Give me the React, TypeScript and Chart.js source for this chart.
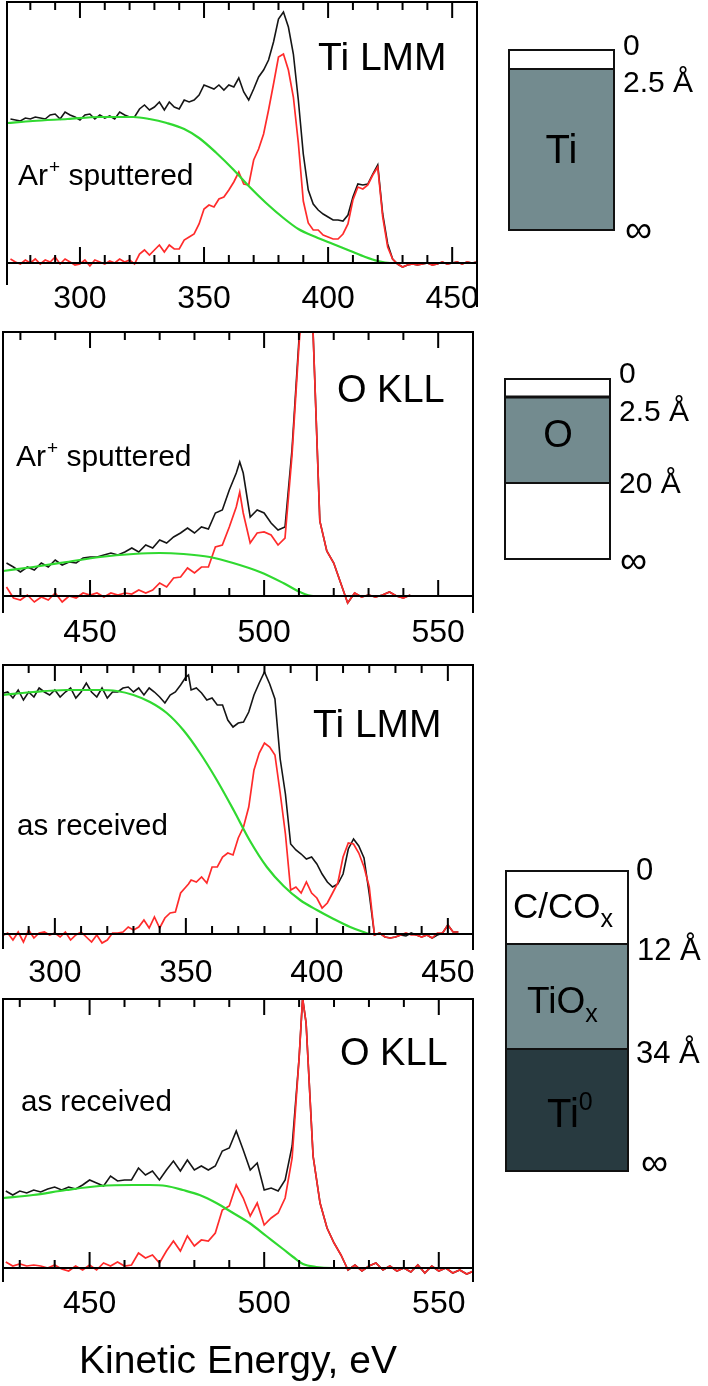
import React, { useEffect, useRef } from "react";
import { Chart, registerables } from "chart.js";
Chart.register(...registerables);

const W = 708;
const H = 1386;
const FONT = '"Liberation Sans", Arial, Helvetica, sans-serif';
const BLACK = "#151515";
const RED = "#ff2b2b";
const GREEN = "#30d930";
const GRAY = "#738b8f";
const DARK = "#283a40";

// ---------- Panel 1: Ti LMM, Ar+ sputtered (kinetic energy eV, intensity a.u.) ----------
const tiSputE = [
  272, 274, 276, 278, 280, 282, 284, 286, 288, 290,
  292, 294, 296, 298, 300, 302, 304, 306, 308, 310,
  312, 314, 316, 318, 320, 322, 324, 326, 328, 330,
  332, 334, 336, 338, 340, 342, 344, 346, 348, 350,
  352, 354, 356, 358, 360, 362, 364, 366, 368, 370,
  372, 374, 376, 378, 380, 382, 384, 386, 388, 390,
  392, 394, 396, 398, 400, 402, 404, 406, 408, 410,
  412, 414, 416, 418, 420, 422, 424, 426, 428, 430,
  432, 434, 436, 438, 440, 442, 444, 446, 448, 450,
  452, 454, 456, 458, 460,
];
const tiSputRaw = [
  144, 143, 142, 145, 144, 146, 145, 144, 148, 149,
  144, 151, 148, 146, 143, 148, 149, 144, 148, 145,
  147, 144, 151, 148, 146, 146, 154, 158, 153, 156,
  161, 153, 161, 156, 154, 163, 161, 163, 168, 178,
  176, 174, 178, 173, 178, 176, 185, 171, 163, 174,
  186, 193, 203, 221, 244, 251, 236, 209, 163, 109,
  73, 59, 53, 49, 46, 43, 43, 42, 48, 66,
  79, 78, 79, 89, 98, 49, 19, 4, -1, -4,
  -2, -1, -2, -1, 0, -2, -1, 1, -1, 0,
  1, -1, 1, 0, 1,
];
const tiSputNet = [
  4, 1, -1, 3, 0, 4, -1, 3, 1, 6,
  -1, 4, 1, -2, -1, 3, -3, 3, 1, -1,
  2, 0, 4, 1, 3, -1, 9, 13, 8, 13,
  18, 11, 18, 14, 14, 23, 26, 29, 39, 54,
  58, 56, 64, 66, 73, 81, 91, 79, 78, 103,
  114, 129, 153, 179, 206, 209, 193, 166, 120, 62,
  40, 33, 33, 28, 26, 24, 24, 29, 39, 63,
  76, 74, 78, 88, 96, 46, 16, 4, -1, -4,
  -2, -1, -2, -1, 0, -2, -1, 1, -1, 0,
  1, -1, 1, 0, 1,
];
const tiSputBgE = [270.6, 281, 295, 308, 321.5, 328, 335, 342, 348, 355, 362, 368, 375, 382, 388, 395, 402, 409, 415, 420, 425, 440, 460];
const tiSputBg = [140, 142, 144, 146, 146, 144, 140, 134, 125, 110, 93, 77, 60, 45, 34, 26, 19, 12, 6, 2, 0, 0, 0];

// ---------- Panel 2: O KLL, Ar+ sputtered ----------
const oSputE = [
  426, 428, 430, 432, 434, 436, 438, 440, 442, 444,
  446, 448, 450, 452, 454, 456, 458, 460, 462, 464,
  466, 468, 470, 472, 474, 476, 478, 480, 482, 484,
  486, 488, 490, 492, 493, 494, 496, 498, 500, 502,
  504, 506, 508, 510, 512, 514, 516, 518, 520, 522,
  524, 526, 528, 530, 532, 534, 536, 538, 540, 542,
];
const oSputRaw = [
  33, 29, 24, 29, 26, 33, 29, 36, 31, 34,
  33, 38, 39, 39, 41, 43, 41, 44, 48, 44,
  51, 48, 56, 53, 59, 63, 68, 63, 69, 67,
  83, 86, 106, 123, 134, 123, 79, 86, 83, 73,
  66, 69, 146, 256, 340, 270, 75, 45, 33, 13,
  -7, 3, -1, 1, -1, 1, 4, 0, -2, 1,
];
const oSputNet = [
  9, -2, -4, 1, -6, -1, -4, 3, -6, 0,
  -2, 3, 1, 3, -1, 3, 1, 3, 2, 6,
  3, 6, 13, 9, 18, 19, 28, 23, 29, 29,
  49, 51, 69, 89, 104, 83, 53, 63, 64, 61,
  51, 58, 140, 250, 340, 270, 75, 45, 33, 13,
  -7, 3, -1, 1, -1, 1, 4, 0, -2, 1,
];
const oSputBgE = [425, 433.7, 443.3, 452.9, 462.4, 470, 476.8, 484.4, 491.1, 498.8, 505.5, 510.3, 514.1, 520, 543.3];
const oSputBg = [25, 29, 34, 39, 42, 43, 42, 39, 33, 24, 13, 4, 0, 0, 0];

// ---------- Panel 3: Ti LMM, as received ----------
const tiRecE = [
  280.5, 282, 284, 286, 288, 290, 292, 294, 296, 298,
  300, 302, 304, 306, 308, 310, 312, 314, 316, 318,
  320, 322, 324, 326, 328, 330, 332, 334, 336, 338,
  340, 342, 344, 346, 348, 350, 351, 352, 354, 356,
  358, 360, 362, 364, 366, 368, 370, 372, 374, 376,
  378, 380, 382, 384, 386, 388, 390, 392, 394, 396,
  398, 400, 402, 404, 406, 408, 410, 412, 414, 416,
  418, 420, 422, 424, 426, 428, 430, 432, 434, 436,
  438, 440, 442, 444, 446, 448, 450, 452, 454,
];
const tiRecRaw = [
  241, 242, 236, 244, 234, 242, 237, 246, 242, 239,
  244, 237, 242, 246, 236, 242, 251, 242, 237, 246,
  236, 242, 242, 246, 247, 242, 246, 239, 246, 242,
  237, 231, 239, 242, 249, 257, 259, 244, 246, 241,
  234, 236, 229, 229, 214, 207, 211, 212, 222, 239,
  251, 262, 250, 235, 175, 140, 90, 84, 80, 75,
  77, 70, 60, 52, 47, 50, 60, 85, 95, 88,
  76, 40, -1, 1, -3, -4, -3, -1, -2, 1,
  -1, -3, -1, -4, -1, 1, 9, 2, 2,
];
const tiRecNet = [
  -1, 1, -6, 2, -8, 4, -4, 1, 2, -1,
  1, -3, 2, -6, -1, 2, -3, -8, -1, -9,
  -6, 1, 1, 2, 7, 4, 7, 14, 6, 17,
  6, 16, 21, 22, 41, 47, 50, 54, 52, 57,
  51, 67, 67, 77, 81, 79, 96, 107, 127, 164,
  181, 191, 187, 179, 141, 100, 44, 47, 41, 52,
  41, 36, 26, 31, 41, 51, 77, 91, 90, 81,
  67, 47, -1, 1, -3, -4, -3, -1, 1, -1,
  -1, -3, -1, -4, 1, 1, 9, 2, 2,
];
const tiRecBgE = [280.3, 291.7, 304.5, 317.2, 323.6, 330, 336.3, 342.7, 349, 355.4, 361.8, 368.2, 374.5, 380.9, 387.3, 393.6, 400, 406.4, 412.7, 417.8, 420.4, 453.5];
const tiRecBg = [239, 242, 244, 244, 243, 239, 232, 221, 204, 181, 154, 124, 93, 67, 48, 34, 24, 15, 7, 2, 0, 0];

// ---------- Panel 4: O KLL, as received ----------
const oRecE = [
  426, 428, 430, 432, 434, 436, 438, 440, 442, 444,
  446, 448, 450, 452, 454, 456, 458, 460, 462, 464,
  466, 468, 470, 472, 474, 476, 478, 480, 482, 484,
  486, 488, 490, 492, 494, 496, 498, 500, 502, 504,
  506, 508, 510, 511, 512, 514, 516, 518, 520, 522,
  524, 526, 528, 530, 532, 534, 536, 538, 540, 542,
  544, 546, 548, 550, 552, 554, 556, 558, 560,
];
const oRecRaw = [
  77, 73, 77, 75, 78, 76, 79, 81, 78, 81,
  79, 83, 88, 85, 82, 92, 87, 88, 88, 100,
  93, 97, 88, 98, 107, 97, 108, 98, 102, 98,
  102, 117, 120, 137, 118, 98, 105, 78, 80, 77,
  88, 122, 210, 270, 245, 112, 65, 40, 25, 13,
  -2, 3, -3, 2, 5, -2, 2, -3, 0, -4,
  3, -5, 2, -3, 0, -5, -2, -6, -3,
];
const oRecNet = [
  6, 2, 4, 2, 3, 2, 0, 3, -1, -3,
  2, -2, 3, -2, 5, 2, 6, 2, 3, 15,
  10, 13, 5, 17, 27, 17, 32, 22, 28, 27,
  35, 58, 62, 83, 70, 52, 65, 43, 50, 55,
  70, 110, 210, 270, 245, 112, 65, 40, 25, 13,
  -2, 3, -3, 2, 5, -2, 2, -3, 0, -4,
  3, -5, 2, -3, 0, -5, -2, -6, -3,
];
const oRecBgE = [425.2, 433.8, 443.3, 452.9, 462.4, 467.2, 472, 476.7, 481.5, 486.3, 491.1, 495.8, 500.6, 505.4, 508.3, 511.1, 514.9, 519.7, 559.8];
const oRecBg = [70, 73, 78, 82, 83, 83, 82, 78, 73, 65, 55, 45, 32, 19, 11, 4, 1, 0, 0];

// ---------- Axis ticks ----------
const tiSputTicks = [280, 290, 300, 310, 320, 330, 340, 350, 360, 370, 380, 390, 400, 410, 420, 430, 440, 450];
const tiRecTicks = [290, 300, 310, 320, 330, 340, 350, 360, 370, 380, 390, 400, 410, 420, 430, 440, 450];
const oTicks = [430, 440, 450, 460, 470, 480, 490, 500, 510, 520, 530, 540, 550];
const tiTickLabels = [300, 350, 400, 450];
const oTickLabels = [450, 500, 550];
const xAxisTitle = "Kinetic Energy, eV";

// ---------- Depth schematics ----------
const sputTiDepths = ["0", "2.5 Å", "∞"];
const sputODepths = ["0", "2.5 Å", "20 Å", "∞"];
const recDepths = ["0", "12 Å", "34 Å", "∞"];

type PanelDef = {
  key: string;
  energies: number[];
  raw: number[];
  net: number[];
  bgE: number[];
  bg: number[];
  ticks: number[];
  labels: number[];
  xMin: number;
  xMax: number;
  yMin: number;
  yMax: number;
  left: number;
  right: number;
  top: number;
  bottom: number;
  rightBottom: number;
  labelBase: number;
  element: string;
  elemX: number;
  elemY: number;
  elemSize: number;
  cond: string;
  sputtered: boolean;
  condX: number;
  condY: number;
  title?: boolean;
};

const panels: PanelDef[] = [
  {
    key: "p1", energies: tiSputE, raw: tiSputRaw, net: tiSputNet, bgE: tiSputBgE, bg: tiSputBg,
    ticks: tiSputTicks, labels: tiTickLabels, xMin: 270.6, xMax: 460, yMin: -22, yMax: 261,
    left: 7, right: 477, top: 2, bottom: 285, rightBottom: 307, labelBase: 308,
    element: "Ti LMM", elemX: 318, elemY: 70, elemSize: 39, cond: " sputtered", sputtered: true, condX: 18, condY: 185,
  },
  {
    key: "p2", energies: oSputE, raw: oSputRaw, net: oSputNet, bgE: oSputBgE, bg: oSputBg,
    ticks: oTicks, labels: oTickLabels, xMin: 425, xMax: 560, yMin: -17, yMax: 264,
    left: 3, right: 473, top: 332, bottom: 613, rightBottom: 613, labelBase: 642,
    element: "O KLL", elemX: 337, elemY: 402, elemSize: 38, cond: " sputtered", sputtered: true, condX: 16, condY: 466,
  },
  {
    key: "p3", energies: tiRecE, raw: tiRecRaw, net: tiRecNet, bgE: tiRecBgE, bg: tiRecBg,
    ticks: tiRecTicks, labels: tiTickLabels, xMin: 280.2, xMax: 459.6, yMin: -15, yMax: 269,
    left: 3, right: 473, top: 665, bottom: 949, rightBottom: 950, labelBase: 982,
    element: "Ti LMM", elemX: 313, elemY: 737, elemSize: 39, cond: "as received", sputtered: false, condX: 17, condY: 835,
  },
  {
    key: "p4", energies: oRecE, raw: oRecRaw, net: oRecNet, bgE: oRecBgE, bg: oRecBg,
    ticks: oTicks, labels: oTickLabels, xMin: 425.2, xMax: 559.8, yMin: -14, yMax: 269,
    left: 3, right: 473, top: 999, bottom: 1282, rightBottom: 1282, labelBase: 1313,
    element: "O KLL", elemX: 340, elemY: 1065, elemSize: 38, cond: "as received", sputtered: false, condX: 21, condY: 1111,
    title: true,
  },
];

function drawText(ctx: CanvasRenderingContext2D, s: string, x: number, y: number, size: number, align: CanvasTextAlign = "left") {
  ctx.font = `${size}px ${FONT}`;
  ctx.textAlign = align;
  ctx.textBaseline = "alphabetic";
  ctx.fillText(s, x, y);
  return ctx.measureText(s).width;
}

function PanelChart({ p }: { p: PanelDef }) {
  const ref = useRef<HTMLCanvasElement>(null);
  useEffect(() => {
    const canvas = ref.current;
    if (!canvas) return;
    const framePlugin = {
      id: "frame_" + p.key,
      afterDatasetsDraw(chart: any) {
        const ctx: CanvasRenderingContext2D = chart.ctx;
        const a = chart.chartArea;
        const xs = chart.scales.x;
        const ys = chart.scales.y;
        const y0 = ys.getPixelForValue(0);
        ctx.save();
        ctx.strokeStyle = "#000";
        ctx.lineWidth = 2;
        ctx.beginPath();
        ctx.moveTo(a.left, a.bottom);
        ctx.lineTo(a.left, a.top);
        ctx.lineTo(a.right, a.top);
        ctx.lineTo(a.right, p.rightBottom);
        ctx.moveTo(a.left, y0);
        ctx.lineTo(a.right, y0);
        for (const t of p.ticks) {
          const x = xs.getPixelForValue(t);
          const len = p.labels.includes(t) ? 16 : 8;
          ctx.moveTo(x, a.top);
          ctx.lineTo(x, a.top + len);
          ctx.moveTo(x, y0);
          ctx.lineTo(x, y0 - len);
        }
        ctx.stroke();
        ctx.fillStyle = "#000";
        for (const v of p.labels) {
          drawText(ctx, String(v), xs.getPixelForValue(v), p.labelBase, 32, "center");
        }
        drawText(ctx, p.element, p.elemX, p.elemY, p.elemSize);
        if (p.sputtered) {
          let x = p.condX;
          x += drawText(ctx, "Ar", x, p.condY, 30);
          x += drawText(ctx, "+", x + 1, p.condY - 12, 19) + 1;
          drawText(ctx, p.cond, x, p.condY, 30);
        } else {
          drawText(ctx, p.cond, p.condX, p.condY, 29.5);
        }
        if (p.title) {
          drawText(ctx, xAxisTitle, 238, 1373, 39, "center");
        }
        ctx.restore();
      },
    };
    const chart = new Chart(canvas, {
      type: "line",
      data: {
        datasets: [
          {
            data: p.bgE.map((x, i) => ({ x, y: p.bg[i] })),
            borderColor: GREEN,
            borderWidth: 2.2,
            pointRadius: 0,
            tension: 0.4,
            cubicInterpolationMode: "monotone",
            fill: false,
          },
          {
            data: p.energies.map((x, i) => ({ x, y: p.net[i] })),
            borderColor: RED,
            borderWidth: 1.7,
            pointRadius: 0,
            tension: 0,
            fill: false,
          },
          {
            data: p.energies.map((x, i) => ({ x, y: p.raw[i] })),
            borderColor: BLACK,
            borderWidth: 1.6,
            pointRadius: 0,
            tension: 0,
            fill: false,
          },
        ],
      } as any,
      options: {
        animation: false,
        responsive: false,
        devicePixelRatio: 1,
        events: [],
        layout: {
          autoPadding: false,
          padding: { left: p.left, right: W - p.right, top: p.top, bottom: H - p.bottom },
        },
        scales: {
          x: { type: "linear", min: p.xMin, max: p.xMax, display: false },
          y: { type: "linear", min: p.yMin, max: p.yMax, display: false },
        },
        plugins: { legend: { display: false }, tooltip: { enabled: false } },
      } as any,
      plugins: [framePlugin],
    });
    return () => chart.destroy();
  }, [p]);
  return (
    <canvas
      ref={ref}
      width={W}
      height={H}
      style={{ position: "absolute", left: 0, top: 0, width: W, height: H }}
    />
  );
}

function Schematic() {
  const t = { fontFamily: FONT, fill: "#000" } as const;
  const s = { stroke: "#111", strokeWidth: 2 } as const;
  return (
    <svg width={W} height={H} style={{ position: "absolute", left: 0, top: 0 }}>
      {/* Ti, sputtered */}
      <rect x={509} y={50} width={105} height={180} fill="#fff" />
      <rect x={509} y={69} width={105} height={161} fill={GRAY} />
      <rect x={509} y={50} width={105} height={180} fill="none" {...s} />
      <line x1={509} x2={614} y1={69} y2={69} {...s} />
      <text x={561.5} y={163} fontSize={40} textAnchor="middle" {...t}>Ti</text>
      <text x={623} y={55} fontSize={30} {...t}>{sputTiDepths[0]}</text>
      <text x={623} y={92} fontSize={30} {...t}>{sputTiDepths[1]}</text>
      <text x={625} y={242} fontSize={38} {...t}>{sputTiDepths[2]}</text>

      {/* O, sputtered */}
      <rect x={505} y={379} width={105} height={180} fill="#fff" />
      <rect x={505} y={397} width={105} height={86} fill={GRAY} />
      <rect x={505} y={379} width={105} height={180} fill="none" {...s} />
      <line x1={505} x2={610} y1={397} y2={397} stroke="#111" strokeWidth={3} />
      <line x1={505} x2={610} y1={483} y2={483} {...s} />
      <text x={558} y={447} fontSize={38} textAnchor="middle" {...t}>O</text>
      <text x={619} y={383} fontSize={30} {...t}>{sputODepths[0]}</text>
      <text x={619} y={421} fontSize={30} {...t}>{sputODepths[1]}</text>
      <text x={619} y={493} fontSize={30} {...t}>{sputODepths[2]}</text>
      <text x={620} y={573} fontSize={38} {...t}>{sputODepths[3]}</text>

      {/* as received */}
      <rect x={506} y={871} width={122} height={73} fill="#fff" />
      <rect x={506} y={944} width={122} height={105} fill={GRAY} />
      <rect x={506} y={1049} width={122} height={122} fill={DARK} />
      <rect x={506} y={871} width={122} height={300} fill="none" {...s} />
      <line x1={506} x2={628} y1={944} y2={944} {...s} />
      <line x1={506} x2={628} y1={1049} y2={1049} {...s} />
      <text x={513} y={918} fontSize={35} {...t}>
        C/CO<tspan fontSize={25} dy={9}>x</tspan>
      </text>
      <text x={527} y={1013} fontSize={37} {...t}>
        TiO<tspan fontSize={25} dy={9}>x</tspan>
      </text>
      <text x={547} y={1127} fontSize={40} {...t}>
        Ti<tspan fontSize={25} dy={-17}>0</tspan>
      </text>
      <text x={636} y={880} fontSize={31} {...t}>{recDepths[0]}</text>
      <text x={637} y={960} fontSize={31} {...t}>{recDepths[1]}</text>
      <text x={636} y={1063} fontSize={31} {...t}>{recDepths[2]}</text>
      <text x={641} y={1175} fontSize={38} {...t}>{recDepths[3]}</text>
    </svg>
  );
}

export default function App() {
  return (
    <div
      style={{
        position: "absolute",
        left: 0,
        top: 0,
        width: W,
        height: H,
        overflow: "hidden",
        background: "#fff",
      }}
    >
      {panels.map((p) => (
        <PanelChart key={p.key} p={p} />
      ))}
      <Schematic />
    </div>
  );
}
